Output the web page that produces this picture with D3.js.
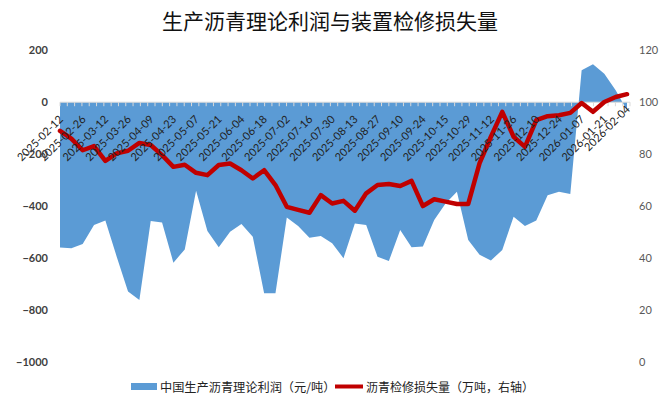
<!DOCTYPE html>
<html><head><meta charset="utf-8">
<script src="https://cdn.jsdelivr.net/npm/d3@7"></script>
<style>body{margin:0;background:#fff}svg{display:block}</style>
</head><body><svg id="c" width="660" height="405"></svg>
<script>
const dates = ["2025-02-12","2025-02-19","2025-02-26","2025-03-05","2025-03-12","2025-03-19","2025-03-26","2025-04-02","2025-04-09","2025-04-16","2025-04-23","2025-04-30","2025-05-07","2025-05-14","2025-05-21","2025-05-28","2025-06-04","2025-06-11","2025-06-18","2025-06-25","2025-07-02","2025-07-09","2025-07-16","2025-07-23","2025-07-30","2025-08-06","2025-08-13","2025-08-20","2025-08-27","2025-09-03","2025-09-10","2025-09-17","2025-09-24","2025-10-09","2025-10-15","2025-10-22","2025-10-29","2025-11-05","2025-11-12","2025-11-19","2025-11-26","2025-12-03","2025-12-10","2025-12-17","2025-12-24","2025-12-31","2026-01-07","2026-01-14","2026-01-21","2026-01-28","2026-02-04"];
const profit = [-560,-563,-546,-473,-456,-595,-729,-762,-458,-463,-618,-567,-341,-496,-559,-499,-469,-518,-736,-736,-444,-477,-522,-515,-543,-601,-467,-473,-595,-612,-492,-559,-556,-454,-390,-345,-531,-588,-610,-569,-441,-477,-456,-358,-345,-354,123,146,110,46,-31];
const loss = [89.0,86.0,81.5,83.1,77.4,80.3,81.3,84.3,83.5,79.6,75.1,75.9,72.8,71.9,75.8,76.4,73.8,70.6,73.8,68.1,59.7,58.5,57.4,64.2,61.0,62.0,58.2,64.9,68.1,68.5,67.7,69.7,60.0,62.6,61.7,60.8,60.8,76.5,86.7,96.3,86.7,82.8,93.1,94.6,95.0,95.9,99.7,96.3,100.1,102.0,103.1];
const tickLabels = ["2025-02-12","2025-02-26","2025-03-12","2025-03-26","2025-04-09","2025-04-23","2025-05-07","2025-05-21","2025-06-04","2025-06-18","2025-07-02","2025-07-16","2025-07-30","2025-08-13","2025-08-27","2025-09-10","2025-09-24","2025-10-15","2025-10-29","2025-11-12","2025-11-26","2025-12-10","2025-12-24","2026-01-07","2026-01-21","2026-02-04"];
const leftTicks = [200,0,-200,-400,-600,-800,-1000];
const rightTicks = [120,100,80,60,40,20,0];
const title = "生产沥青理论利润与装置检修损失量";
const legendNames = ["中国生产沥青理论利润（元/吨）","沥青检修损失量（万吨，右轴）"];

const svg = d3.select("#c");
const cjk = "'Noto Sans CJK SC','Microsoft YaHei',sans-serif";
const lat = "Lato,'Open Sans',sans-serif";
const x = d3.scalePoint().domain(dates).range([60, 627]);
const yL = d3.scaleLinear().domain([-1000, 200]).range([361.8, 50.3]);
const yR = d3.scaleLinear().domain([0, 120]).range([361.8, 50.3]);

// title
svg.append("text").attr("x", 330).attr("y", 20).attr("text-anchor","middle")
  .attr("dominant-baseline","central").attr("font-family", cjk).attr("font-size", 21)
  .attr("fill","#111").text(title);

// area
const area = d3.area().x((d,i)=>x(dates[i])).y0(yL(0)).y1(d=>yL(d));
svg.append("path").datum(profit).attr("d", area).attr("fill","#5B9BD5");

// x axis line + minor ticks
const g = svg.append("g");
g.append("line").attr("x1", 60).attr("x2", 630).attr("y1", yL(0)).attr("y2", yL(0))
  .attr("stroke","#D9D9D9").attr("stroke-width",1);
const tickScale = d3.scaleLinear().domain([0, 78]).range([60, 630]);
g.selectAll("line.mt").data(d3.range(79)).join("line").attr("class","mt")
  .attr("x1", d=>tickScale(d)).attr("x2", d=>tickScale(d))
  .attr("y1", yL(0)).attr("y2", yL(0)+4).attr("stroke","#D9D9D9").attr("stroke-width",1);

// line
const line = d3.line().x((d,i)=>x(dates[i])).y(d=>yR(d));
svg.append("path").datum(loss).attr("d", line).attr("fill","none")
  .attr("stroke","#C00000").attr("stroke-width",4.5).attr("stroke-linejoin","round").attr("stroke-linecap","round");

// x labels
const last = tickLabels[tickLabels.length-1];
svg.append("g").selectAll("text").data(tickLabels).join("text")
  .attr("transform", d=>`translate(${x(d)+1},${yL(0)+(d===last?5:15)}) rotate(-45)`)
  .attr("text-anchor","end").attr("dy","0.35em")
  .attr("font-family", lat).attr("font-size", 11).attr("fill","#222").text(d=>d);

// left axis
const la = svg.append("g").attr("transform","translate(60,0)")
  .call(d3.axisLeft(yL).tickValues(leftTicks).tickSize(0).tickPadding(12).tickFormat(d3.format("d")));
la.select(".domain").remove();
la.selectAll("text").attr("font-family", lat).attr("font-size", 11).attr("fill","#404040").attr("font-weight","bold");

// right axis
const ra = svg.append("g").attr("transform","translate(627,0)")
  .call(d3.axisRight(yR).tickValues(rightTicks).tickSize(0).tickPadding(12).tickFormat(d3.format("d")));
ra.select(".domain").remove();
ra.selectAll("text").attr("font-family", lat).attr("font-size", 11).attr("fill","#595959");

// legend
const lg = svg.append("g");
lg.append("rect").attr("x",131).attr("y",383).attr("width",26).attr("height",7).attr("fill","#5B9BD5");
lg.append("text").attr("x",160).attr("y",386.5).attr("dominant-baseline","central")
  .attr("font-family", cjk).attr("font-size",12.2).attr("fill","#222").text(legendNames[0]);
lg.append("line").attr("x1",335).attr("x2",363).attr("y1",386.5).attr("y2",386.5)
  .attr("stroke","#C00000").attr("stroke-width",4);
lg.append("text").attr("x",366).attr("y",386.5).attr("dominant-baseline","central")
  .attr("font-family", cjk).attr("font-size",12).attr("fill","#222").text(legendNames[1]);
</script></body></html>
